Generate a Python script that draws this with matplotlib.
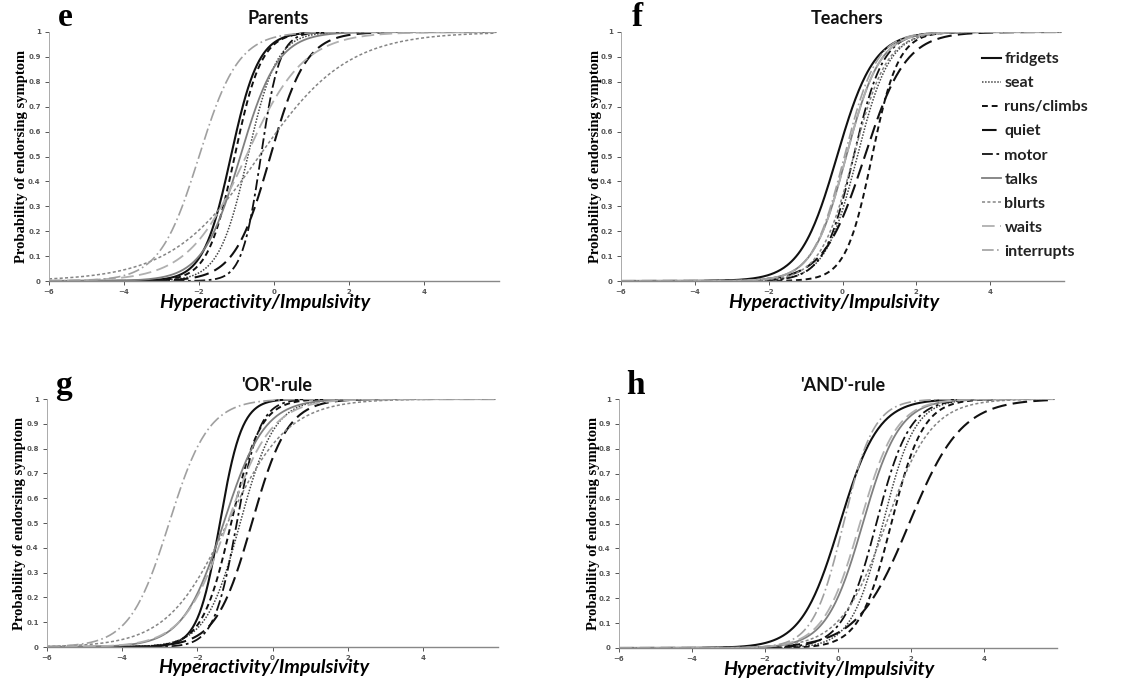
import numpy as np
import matplotlib
matplotlib.use("Agg")
import matplotlib.pyplot as plt

# items (legend order)
items = ["fridgets", "seat", "runs/climbs", "quiet", "motor",
         "talks", "blurts", "waits", "interrupts"]

# 2PL item parameters: slope a, location b
parents_a = [2.7, 2.6, 2.8, 2.1, 4.0, 2.0, 0.85, 1.3, 1.9]
parents_b = [-1.15, -0.7, -1.05, -0.1, -0.35, -0.9, -0.4, -0.75, -2.0]

teachers_a = [2.0, 2.3, 2.8, 1.8, 2.5, 2.2, 2.2, 2.2, 2.3]
teachers_b = [-0.15, 0.4, 0.8, 0.6, 0.3, 0.1, 0.3, 0.1, 0.05]

or_a = [3.4, 2.2, 2.6, 2.1, 3.3, 1.85, 1.24, 1.7, 1.9]
or_b = [-1.4, -0.86, -1.1, -0.55, -0.95, -1.3, -1.2, -1.2, -2.75]

and_a = [1.9, 2.3, 2.3, 1.4, 2.2, 2.0, 1.6, 2.0, 2.4]
and_b = [0.05, 1.23, 1.46, 1.95, 1.05, 0.68, 1.32, 0.6, 0.15]

panels = [("e", "Parents", parents_a, parents_b),
          ("f", "Teachers", teachers_a, teachers_b),
          ("g", "'OR'-rule", or_a, or_b),
          ("h", "'AND'-rule", and_a, and_b)]

# line look per item
colors = ["#111111", "#444444", "#111111", "#111111", "#111111",
          "#7f7f7f", "#858585", "#b0b0b0", "#a0a0a0"]
dashes = [None, (1, 1), (3, 2), (7, 3), (6, 2, 1.5, 2),
          None, (2, 1.5), (7, 3), (7, 2, 1, 2)]
widths = [1.5, 1.1, 1.4, 1.5, 1.3, 1.3, 1.1, 1.3, 1.2]

# axes boxes in pixels: left, top, width, bottom
boxes = [(49, 32, 450, 281), (621, 32, 443, 281),
         (47, 399, 451, 647), (619, 399, 438, 648)]
ylab_x = [22, 595, 20, 593]

W, H = 1145, 682
fig = plt.figure(figsize=(W / 100, H / 100), dpi=100)
theta = np.linspace(-6, 5.9, 400)

for k, (letter, title, a_list, b_list) in enumerate(panels):
    left, top, width, bottom = boxes[k]
    ax = fig.add_axes([left / W, 1 - bottom / H, width / W, (bottom - top) / H])
    for i, name in enumerate(items):
        p = 1 / (1 + np.exp(-a_list[i] * (theta - b_list[i])))
        line, = ax.plot(theta, p, color=colors[i], lw=widths[i], label=name)
        if dashes[i] is not None:
            line.set_dashes(dashes[i])
    ax.set_xlim(-6, 6)
    ax.set_ylim(0, 1)
    ax.set_xticks([-6, -4, -2, 0, 2, 4])
    ax.set_yticks(np.round(np.arange(0, 1.01, 0.1), 1))
    ax.set_yticklabels(["0"] + ["%.1f" % v for v in np.arange(0.1, 0.95, 0.1)] + ["1"])
    ax.tick_params(labelsize=5, colors="#555555", length=3, width=0.7, pad=3)
    for lab in ax.get_xticklabels() + ax.get_yticklabels():
        lab.set_fontweight("bold")
    for s in ["top", "right"]:
        ax.spines[s].set_visible(False)
    ax.spines["left"].set_color("#aaaaaa")
    ax.spines["left"].set_linewidth(0.7)
    ax.spines["bottom"].set_color("#888888")
    ax.spines["bottom"].set_linewidth(1.0)

    cx = left + width * 0.51
    fig.text(cx / W, 1 - (top - 14) / H, title, ha="center", va="center",
             fontsize=13, fontweight="bold", family="Lato", color="#111111")
    fig.text((left + 16) / W, 1 - (top - 14) / H, letter, ha="center", va="center",
             fontsize=24, fontweight="bold", family="Liberation Serif")
    fig.text((left + width * 0.48) / W, 1 - (bottom + 21) / H, "Hyperactivity/Impulsivity",
             ha="center", va="center", fontsize=14, fontweight="bold",
             style="italic", family="Lato")
    fig.text(ylab_x[k] / W, 1 - (top + bottom) / 2 / H,
             "Probability of endorsing symptom", rotation=90,
             ha="center", va="center", fontsize=10.5, fontweight="bold",
             family="Liberation Serif")

    if letter == "f":
        leg = ax.legend(loc="upper left", bbox_to_anchor=(982 / W, 1 - 52 / H),
                        bbox_transform=fig.transFigure, frameon=False,
                        handlelength=1.2, handletextpad=0.2, labelspacing=0.62,
                        borderpad=0, borderaxespad=0,
                        prop={"family": "Lato", "weight": "bold", "size": 11.5})
        for txt in leg.get_texts():
            txt.set_color("#222222")

fig.savefig("out.png", dpi=100)
